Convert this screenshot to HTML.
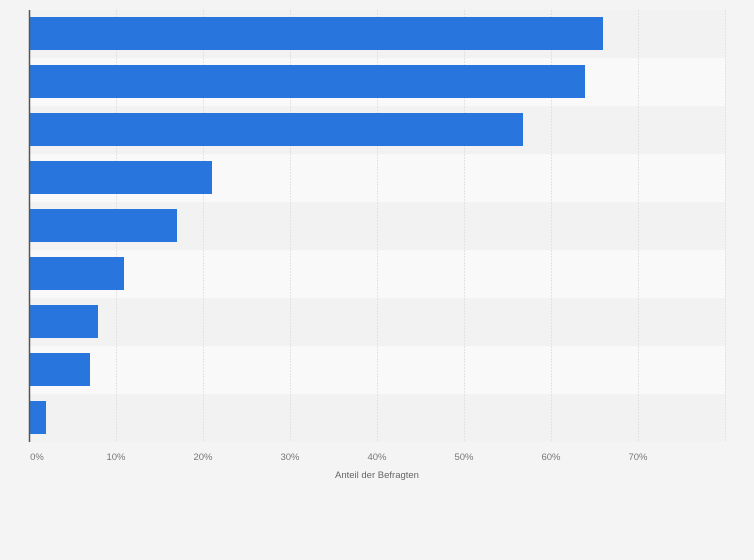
<!DOCTYPE html><html><head><style>html,body{margin:0;padding:0;background:#f4f4f4;overflow:hidden}svg{display:block}</style></head><body>
<svg width="754" height="560" xmlns="http://www.w3.org/2000/svg" font-family="Liberation Sans, sans-serif">
<rect width="754" height="560" fill="#f4f4f4"/>
<g>
<rect x="30" y="10" width="695" height="48" fill="#f2f2f2"/>
<rect x="30" y="58" width="695" height="48" fill="#f9f9f9"/>
<rect x="30" y="106" width="695" height="48" fill="#f2f2f2"/>
<rect x="30" y="154" width="695" height="48" fill="#f9f9f9"/>
<rect x="30" y="202" width="695" height="48" fill="#f2f2f2"/>
<rect x="30" y="250" width="695" height="48" fill="#f9f9f9"/>
<rect x="30" y="298" width="695" height="48" fill="#f2f2f2"/>
<rect x="30" y="346" width="695" height="48" fill="#f9f9f9"/>
<rect x="30" y="394" width="695" height="48" fill="#f2f2f2"/>
</g>
<g stroke="#e2e2e2" stroke-width="1" stroke-dasharray="2,1">
<line x1="116.5" y1="10" x2="116.5" y2="442"/><line x1="203.5" y1="10" x2="203.5" y2="442"/>
<line x1="290.5" y1="10" x2="290.5" y2="442"/><line x1="377.5" y1="10" x2="377.5" y2="442"/>
<line x1="464.5" y1="10" x2="464.5" y2="442"/><line x1="551.5" y1="10" x2="551.5" y2="442"/>
<line x1="638.5" y1="10" x2="638.5" y2="442"/><line x1="725.5" y1="10" x2="725.5" y2="442"/>
</g>
<g fill="#2876dd">
<rect x="30" y="17" width="573" height="33"/>
<rect x="30" y="65" width="555" height="33"/>
<rect x="30" y="113" width="493" height="33"/>
<rect x="30" y="161" width="182" height="33"/>
<rect x="30" y="209" width="147" height="33"/>
<rect x="30" y="257" width="94" height="33"/>
<rect x="30" y="305" width="68" height="33"/>
<rect x="30" y="353" width="60" height="33"/>
<rect x="30" y="401" width="16" height="33"/>
</g>
<line x1="29.5" y1="10" x2="29.5" y2="442" stroke="#555" stroke-width="1.5"/>
<g fill="#777" font-size="9.5" text-anchor="middle">
<text x="37" y="460">0%</text><text x="116" y="460">10%</text><text x="203" y="460">20%</text>
<text x="290" y="460">30%</text><text x="377" y="460">40%</text><text x="464" y="460">50%</text>
<text x="551" y="460">60%</text><text x="638" y="460">70%</text>
<text x="377" y="478" fill="#666">Anteil der Befragten</text>
</g>
</svg></body></html>
